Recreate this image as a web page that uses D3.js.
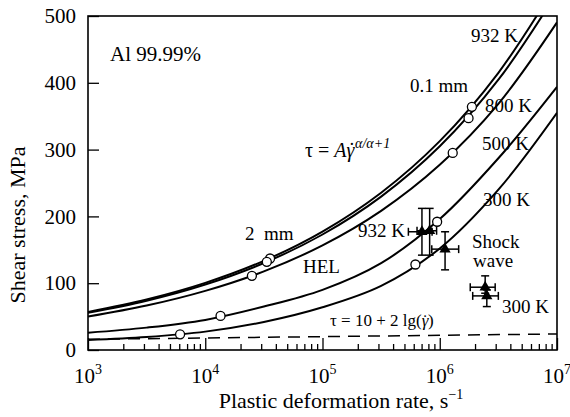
<!DOCTYPE html>
<html>
<head>
<meta charset="utf-8">
<script src="https://cdn.jsdelivr.net/npm/d3@7"></script>
<style>
  body { margin: 0; background: #fff; }
  svg { display: block; font-family: "Liberation Serif", "Times New Roman", serif; }
</style>
</head>
<body>
<div id="chart"></div>
<script>
// strain rate grid (half decades) the curves were read at
const rateGrid = [1000, 3162, 10000, 31623, 100000, 316228, 1000000, 3162278, 10000000];

// shear stress, MPa at rateGrid
const curve932a = [57, 75.7, 100.5, 133.5, 177.3, 235.5, 312.7, 415, 549];
const curve932b = [55.6, 73.8, 98, 130.2, 172.9, 229.6, 304.9, 404.6, 535];
const curve800 = [50, 66.5, 88.5, 117.7, 156.6, 208.3, 277.2, 368.6, 490.4];
const curve500 = [25.9, 33.5, 45, 65, 90, 130, 196, 287, 394];
const curve300 = [15, 19.5, 27.5, 42, 64, 96, 152, 240, 355];

// dashed line tau = 10 + 2 lg(rate)
const dashRate = [1000, 10000000];
const dashStress = [16, 24];

// open circles
const circleRate = [35700, 1880000, 33500, 1760000, 25000, 1290000, 13500, 950000, 6100, 620000];
const circleStress = [137, 364, 132, 347, 111, 295, 51, 192, 23.5, 128];

// shock wave points with error bars
const shockRate = [705000, 820000, 1110000, 2440000, 2520000];
const shockStress = [177, 178.5, 151, 94, 81];
const shockRateLo = [540000, 640000, 855000, 1820000, 1910000];
const shockRateHi = [860000, 940000, 1450000, 2970000, 3160000];
const shockStressLo = [142, 142, 120, 85, 65];
const shockStressHi = [212, 212, 177, 111, 90];

// axis ticks
const xDecades = [1e3, 1e4, 1e5, 1e6, 1e7];
const xExponents = ["3", "4", "5", "6", "7"];
const yTicks = [0, 100, 200, 300, 400, 500];

const width = 570, height = 417;
const margin = { top: 16, right: 13, bottom: 67, left: 88 };

const svg = d3.select("#chart").append("svg")
  .attr("width", width)
  .attr("height", height);

const x = d3.scaleLog()
  .domain([1e3, 1e7])
  .range([margin.left, width - margin.right]);

const y = d3.scaleLinear()
  .domain([0, 500])
  .range([height - margin.bottom, margin.top]);

svg.append("clipPath").attr("id", "plot")
  .append("rect")
  .attr("x", margin.left).attr("y", margin.top)
  .attr("width", x.range()[1] - margin.left)
  .attr("height", y(0) - margin.top);

// minor ticks 2..9 per decade
const minor = [];
xDecades.slice(0, -1).forEach(d => { for (let k = 2; k <= 9; k++) minor.push(d * k); });

svg.append("g")
  .attr("transform", `translate(0,${y(0)})`)
  .call(d3.axisBottom(x).tickValues(minor).tickSize(-6).tickFormat(""))
  .call(g => g.select(".domain").remove())
  .call(g => g.selectAll("line").attr("stroke-width", 1.3));

svg.append("g")
  .attr("transform", `translate(0,${y(0)})`)
  .call(d3.axisBottom(x).tickValues(xDecades).tickSize(-12).tickFormat(""))
  .call(g => g.select(".domain").remove())
  .call(g => g.selectAll("line").attr("stroke-width", 1.3));

// decade labels with superscripts
const xl = svg.append("g").selectAll("text")
  .data(xDecades)
  .join("text")
  .attr("x", d => x(d))
  .attr("y", y(0) + 33)
  .attr("text-anchor", "middle")
  .attr("font-size", 21);
xl.append("tspan").text("10");
xl.append("tspan").attr("dy", -9).attr("font-size", 14).text((d, i) => xExponents[i]);

svg.append("g")
  .attr("transform", `translate(${margin.left},0)`)
  .call(d3.axisLeft(y).tickValues(yTicks).tickSize(-11).tickPadding(12))
  .call(g => g.select(".domain").remove())
  .call(g => g.selectAll("line").attr("stroke-width", 1.3))
  .call(g => g.selectAll("text").attr("font-size", 21).attr("font-family", "Liberation Serif").attr("fill", "#000"));

// frame
svg.append("rect")
  .attr("x", margin.left).attr("y", margin.top)
  .attr("width", x.range()[1] - margin.left)
  .attr("height", y(0) - margin.top)
  .attr("fill", "none").attr("stroke", "#000").attr("stroke-width", 1.6);

const plot = svg.append("g").attr("clip-path", "url(#plot)");

const line = d3.line()
  .x((d, i) => x(rateGrid[i]))
  .y(d => y(d))
  .curve(d3.curveCatmullRom.alpha(0.5));

[curve932a, curve932b, curve800, curve500, curve300].forEach(c => {
  plot.append("path")
    .attr("d", line(c))
    .attr("fill", "none")
    .attr("stroke", "#000")
    .attr("stroke-width", 2);
});

plot.append("path")
  .attr("d", d3.line().x((d, i) => x(dashRate[i])).y(d => y(d))(dashStress))
  .attr("fill", "none")
  .attr("stroke", "#000")
  .attr("stroke-width", 1.5)
  .attr("stroke-dasharray", "12,8");

plot.selectAll("circle")
  .data(circleRate)
  .join("circle")
  .attr("cx", d => x(d))
  .attr("cy", (d, i) => y(circleStress[i]))
  .attr("r", 4.5)
  .attr("fill", "#fff")
  .attr("stroke", "#000")
  .attr("stroke-width", 1.3);

// error bars
const eb = plot.append("g").attr("stroke", "#000").attr("stroke-width", 1.5);
shockRate.forEach((r, i) => {
  const cx = x(r), cy = y(shockStress[i]);
  const x0 = x(shockRateLo[i]), x1 = x(shockRateHi[i]);
  const y0 = y(shockStressLo[i]), y1 = y(shockStressHi[i]);
  eb.append("line").attr("x1", x0).attr("x2", x1).attr("y1", cy).attr("y2", cy);
  eb.append("line").attr("x1", x0).attr("x2", x0).attr("y1", cy - 4).attr("y2", cy + 4);
  eb.append("line").attr("x1", x1).attr("x2", x1).attr("y1", cy - 4).attr("y2", cy + 4);
  eb.append("line").attr("x1", cx).attr("x2", cx).attr("y1", y0).attr("y2", y1);
  eb.append("line").attr("x1", cx - 4).attr("x2", cx + 4).attr("y1", y0).attr("y2", y0);
  eb.append("line").attr("x1", cx - 4).attr("x2", cx + 4).attr("y1", y1).attr("y2", y1);
});

plot.selectAll("path.tri")
  .data(shockRate)
  .join("path")
  .attr("class", "tri")
  .attr("transform", (d, i) => `translate(${x(d)},${y(shockStress[i])})`)
  .attr("d", d3.symbol(d3.symbolTriangle, 55))
  .attr("fill", "#000");

// annotations
function label(tx, ty, txt, size) {
  return svg.append("text").attr("x", tx).attr("y", ty)
    .attr("font-size", size || 19).text(txt);
}
label(110, 61, "Al 99.99%", 21);
label(471, 42, "932 K");
label(410, 92, "0.1 mm");
label(485, 112, "800 K");
label(482, 150, "500 K");
label(483, 206, "300 K");
label(245, 240, "2\u00a0 mm");
label(303, 273, "HEL");
label(358, 237, "932 K");
label(472, 248, "Shock");
label(473, 267, "wave");
label(502, 313, "300 K");

// gamma with a dot on top
function gammaDot(t) {
  t.append("tspan").attr("font-style", "italic").text("\u03b3");
  t.append("tspan").attr("dx", -6).text("\u02d9");
}

const f1 = svg.append("text").attr("x", 305).attr("y", 157).attr("font-size", 20);
f1.append("tspan").text("\u03c4 = ");
f1.append("tspan").attr("font-style", "italic").text("A");
gammaDot(f1);
f1.append("tspan").attr("dy", -9).attr("font-size", 14).attr("font-style", "italic").text("\u03b1/\u03b1+1");

const f2 = svg.append("text").attr("x", 330).attr("y", 326).attr("font-size", 17);
f2.append("tspan").text("\u03c4 = 10 + 2 lg(");
gammaDot(f2);
f2.append("tspan").text(")");

// axis titles
svg.append("text")
  .attr("x", 341).attr("y", 408)
  .attr("text-anchor", "middle")
  .attr("font-size", 22)
  .text("Plastic deformation rate, s")
  .append("tspan").attr("dy", -9).attr("font-size", 14).text("\u22121");

svg.append("text")
  .attr("transform", "translate(25,225) rotate(-90)")
  .attr("text-anchor", "middle")
  .attr("font-size", 22)
  .text("Shear stress, MPa");
</script>
</body>
</html>
